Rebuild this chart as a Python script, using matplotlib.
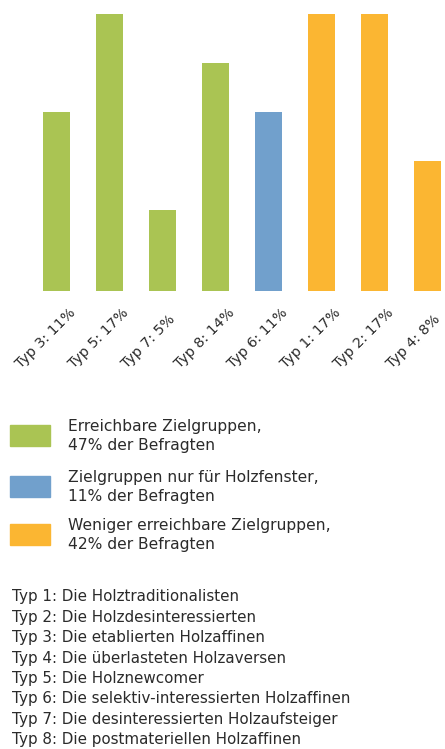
import matplotlib
matplotlib.use("Agg")
import matplotlib.pyplot as plt
from matplotlib.patches import Rectangle

plt.rcParams['font.family'] = ['DejaVu Sans']

labels = ["Typ 3: 11%", "Typ 5: 17%", "Typ 7: 5%", "Typ 8: 14%",
          "Typ 6: 11%", "Typ 1: 17%", "Typ 2: 17%", "Typ 4: 8%"]
values = [11, 17, 5, 14, 11, 17, 17, 8]
groups = [0, 0, 0, 0, 1, 2, 2, 2]

group_colors = ["#AAC453", "#71A0CC", "#FBB632"]
group_labels = ["Erreichbare Zielgruppen,\n47% der Befragten",
                "Zielgruppen nur für Holzfenster,\n11% der Befragten",
                "Weniger erreichbare Zielgruppen,\n42% der Befragten"]

type_names = [
    "Typ 1: Die Holztraditionalisten",
    "Typ 2: Die Holzdesinteressierten",
    "Typ 3: Die etablierten Holzaffinen",
    "Typ 4: Die überlasteten Holzaversen",
    "Typ 5: Die Holznewcomer",
    "Typ 6: Die selektiv-interessierten Holzaffinen",
    "Typ 7: Die desinteressierten Holzaufsteiger",
    "Typ 8: Die postmateriellen Holzaffinen",
]

text_color = "#2b2b2b"
W, H = 445, 749
fig = plt.figure(figsize=(W / 100, H / 100), dpi=100)

# bar chart: baseline at y=291px, top (17) at y=14px
ax = fig.add_axes([0, 1 - 291 / H, 1, (291 - 14) / H])
x = list(range(len(values)))
ax.bar(x, values, width=0.51, color=[group_colors[g] for g in groups])
ax.set_xlim(-56.5 / 53, (W - 56.5) / 53)
ax.set_ylim(0, 17)
ax.axis("off")
for i, lab in enumerate(labels):
    ax.annotate(lab, xy=(i, 0), xytext=(-36, -78), textcoords="offset pixels",
                rotation=45, ha="left", va="baseline", rotation_mode="anchor",
                fontsize=10.3, color=text_color, annotation_clip=False)

# legend and type list in pixel coordinates
lay = fig.add_axes([0, 0, 1, 1])
lay.set_xlim(0, W)
lay.set_ylim(H, 0)
lay.axis("off")
patch_tops = [425, 476, 524]
for top, c, lab in zip(patch_tops, group_colors, group_labels):
    lay.add_patch(Rectangle((10, top), 40, 21, color=c))
    lay.text(68, top + 11, lab, va="center", ha="left", fontsize=11.2,
             color=text_color, linespacing=1.3)

for k, name in enumerate(type_names):
    lay.text(12, 597 + k * 20.4, name, va="center", ha="left", fontsize=10.9,
             color=text_color)

fig.savefig("out.png", dpi=100)
